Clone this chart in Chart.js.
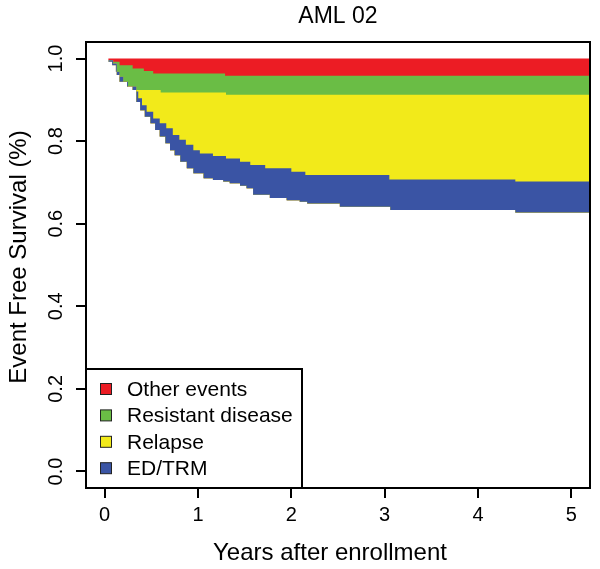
<!DOCTYPE html>
<html>
<head>
<meta charset="utf-8">
<script src="https://cdn.jsdelivr.net/npm/chart.js@4/dist/chart.umd.min.js"></script>
<style>
html,body{margin:0;padding:0;background:#fff;}
#wrap{width:600px;height:569px;position:relative;}
</style>
</head>
<body>
<div id="wrap"><canvas id="c" width="600" height="569"></canvas></div>
<script>
// ---- texts ----
const chartTitle = 'AML 02';
const xTitle = 'Years after enrollment';
const yTitle = 'Event Free Survival (%)';
const xTicks = [0, 1, 2, 3, 4, 5];
const yTicks = [0, 0.2, 0.4, 0.6, 0.8, 1.0];
const seriesNames = ['Other events', 'Resistant disease', 'Relapse', 'ED/TRM'];
const seriesColors = ['#EC1C24', '#6ABD45', '#F2EA1A', '#3A54A4'];

// ---- upper edge of each stacked band (step curves, years / proportion) ----
const otherTimes = [0, 5.2];
const otherTop   = [1.0, 1.0];

const resistantTimes = [0, 0.04, 0.09, 0.16, 0.30, 0.42, 0.52, 1.29, 5.2];
const resistantTop   = [1.0, 0.996, 0.992, 0.984, 0.976, 0.970, 0.964, 0.958, 0.958];

const relapseTimes = [0, 0.04, 0.08, 0.12, 0.16, 0.20, 0.25, 0.34, 0.60, 1.30, 5.2];
const relapseTop   = [1.0, 0.992, 0.984, 0.968, 0.956, 0.944, 0.932, 0.924, 0.918, 0.912, 0.912];

const edtrmTimes = [0, 0.04, 0.08, 0.12, 0.16, 0.20, 0.25, 0.34, 0.36, 0.40, 0.45, 0.52, 0.59, 0.66, 0.73, 0.80, 0.87, 0.95, 1.02, 1.16, 1.30, 1.45, 1.56, 1.72, 2.00, 2.15, 3.05, 4.40, 5.2];
const edtrmTop   = [1.0, 0.992, 0.984, 0.968, 0.956, 0.944, 0.932, 0.920, 0.904, 0.887, 0.871, 0.855, 0.843, 0.831, 0.815, 0.803, 0.791, 0.778, 0.770, 0.764, 0.758, 0.750, 0.742, 0.734, 0.726, 0.718, 0.707, 0.702, 0.702];

// event free survival (lower edge of the ED/TRM band)
const efsTimes  = [0, 0.04, 0.09, 0.13, 0.16, 0.24, 0.30, 0.34, 0.38, 0.43, 0.49, 0.54, 0.59, 0.65, 0.70, 0.75, 0.81, 0.88, 0.95, 1.06, 1.16, 1.27, 1.34, 1.45, 1.52, 1.59, 1.77, 1.95, 2.09, 2.17, 2.52, 3.06, 4.40, 5.2];
const efsValues = [1.0, 0.996, 0.988, 0.960, 0.944, 0.932, 0.924, 0.895, 0.875, 0.859, 0.843, 0.827, 0.811, 0.795, 0.778, 0.766, 0.750, 0.734, 0.722, 0.710, 0.706, 0.702, 0.698, 0.692, 0.686, 0.670, 0.662, 0.657, 0.653, 0.649, 0.641, 0.633, 0.627, 0.627];

function pts(ts, vs) { return ts.map((t, i) => ({x: t, y: vs[i]})); }

const FONT = '"Liberation Sans", Arial, Helvetica, sans-serif';

function curve(label, ts, vs, color, fill) {
  return {
    label: label,
    data: pts(ts, vs),
    stepped: 'before',
    fill: fill,
    backgroundColor: color,
    borderColor: 'rgba(0,0,0,0)',
    borderWidth: 0,
    pointRadius: 0,
    pointHoverRadius: 0
  };
}

// dataset 0 = EFS curve; every band is filled from its upper edge down to the EFS curve.
// Drawing order: higher index first, so the upper bands are painted over by the lower ones.
const datasets = [
  curve('EFS', efsTimes, efsValues, 'rgba(0,0,0,0)', false),
  curve(seriesNames[3], edtrmTimes, edtrmTop, seriesColors[3], 0),
  curve(seriesNames[2], relapseTimes, relapseTop, seriesColors[2], 0),
  curve(seriesNames[1], resistantTimes, resistantTop, seriesColors[1], 0),
  curve(seriesNames[0], otherTimes, otherTop, seriesColors[0], 0)
];

const decor = {
  id: 'decor',
  afterDraw(chart) {
    const ctx = chart.ctx;
    const a = chart.chartArea;
    ctx.save();
    // plot box
    ctx.strokeStyle = '#000';
    ctx.lineWidth = 2;
    ctx.strokeRect(a.left, a.top, a.right - a.left, a.bottom - a.top);
    // titles
    ctx.fillStyle = '#000';
    ctx.textAlign = 'center';
    ctx.textBaseline = 'middle';
    ctx.font = '23px ' + FONT;
    ctx.fillText(chartTitle, (a.left + a.right) / 2, 17);
    ctx.font = '24px ' + FONT;
    ctx.fillText(xTitle, (a.left + a.right) / 2 - 8, 553);
    ctx.save();
    ctx.translate(19, (a.top + a.bottom) / 2 - 8);
    ctx.rotate(-Math.PI / 2);
    ctx.fillText(yTitle, 0, 0);
    ctx.restore();
    // legend
    const lx = a.left, lw = 216, lh = 119;
    const ly = a.bottom - lh;
    ctx.fillStyle = '#fff';
    ctx.fillRect(lx, ly, lw, lh);
    ctx.lineWidth = 2;
    ctx.strokeStyle = '#000';
    ctx.strokeRect(lx, ly, lw, lh);
    ctx.font = '21px ' + FONT;
    ctx.textAlign = 'left';
    ctx.textBaseline = 'middle';
    seriesNames.forEach((name, i) => {
      const cy = ly + 20 + i * 26.4;
      ctx.fillStyle = seriesColors[i];
      ctx.fillRect(lx + 14.5, cy - 5.5, 11, 11);
      ctx.lineWidth = 1;
      ctx.strokeStyle = '#222';
      ctx.strokeRect(lx + 14.5, cy - 5.5, 11, 11);
      ctx.fillStyle = '#000';
      ctx.fillText(name, lx + 41, cy + 1);
    });
    ctx.restore();
  }
};

new Chart(document.getElementById('c'), {
  type: 'line',
  data: { datasets: datasets },
  options: {
    responsive: false,
    animation: false,
    devicePixelRatio: 1,
    events: [],
    layout: { padding: { top: 42, right: 10, left: 0, bottom: 0 } },
    plugins: {
      legend: { display: false },
      title: { display: false },
      tooltip: { enabled: false },
      filler: { propagate: false }
    },
    scales: {
      x: {
        type: 'linear',
        min: -0.2,
        max: 5.2,
        afterBuildTicks: s => { s.ticks = xTicks.map(v => ({value: v})); },
        afterFit: s => { s.height = 81; },
        ticks: {
          color: '#000',
          font: { size: 20, family: FONT },
          padding: 5,
          maxRotation: 0,
          autoSkip: false,
          callback: v => String(v)
        },
        grid: { drawOnChartArea: false, drawTicks: true, tickLength: 10, lineWidth: 2, color: '#000' },
        border: { display: true, color: '#000', width: 2 }
      },
      y: {
        type: 'linear',
        min: -0.04,
        max: 1.04,
        afterBuildTicks: s => { s.ticks = yTicks.map(v => ({value: v})); },
        afterFit: s => { s.width = 86; },
        ticks: {
          color: '#000',
          font: { size: 20, family: FONT },
          padding: 6,
          minRotation: 90,
          maxRotation: 90,
          crossAlign: 'center',
          autoSkip: false,
          callback: v => Number(v).toFixed(1)
        },
        grid: { drawOnChartArea: false, drawTicks: true, tickLength: 10, lineWidth: 2, color: '#000' },
        border: { display: true, color: '#000', width: 2 }
      }
    }
  },
  plugins: [decor]
});
</script>
</body>
</html>
